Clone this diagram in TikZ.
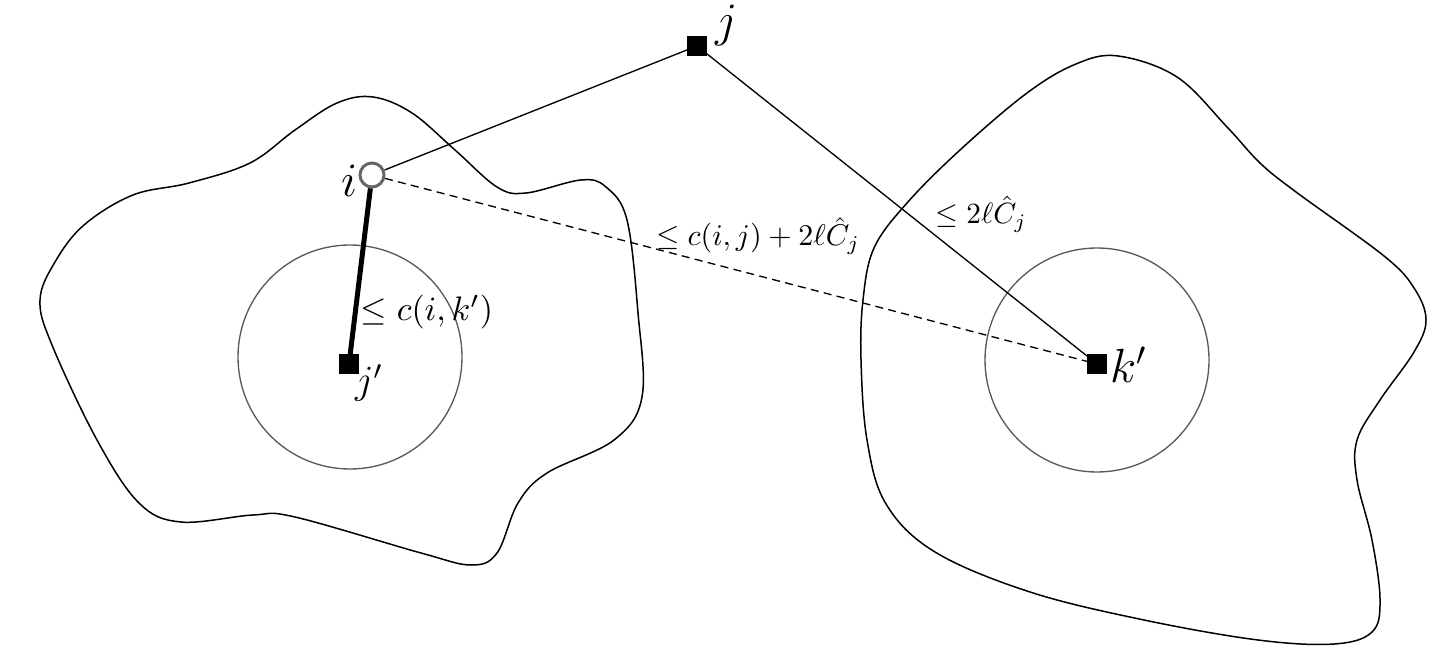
\documentclass[tikz,border=0pt]{standalone}
\usepackage{amsmath}
\begin{document}
\begin{tikzpicture}[x=0.3pt,y=-0.3pt,
  blob/.style={draw=black,line width=0.45pt},
  ball/.style={draw=black!65,line width=0.4pt},
  fac/.style={rectangle,fill=black,draw=black,minimum size=5.4pt,inner sep=0pt},
  cli/.style={circle,draw=black!60,fill=white,line width=0.9pt,minimum size=7.2pt,inner sep=0pt},
  edge/.style={draw=black,line width=0.4pt},
  dashedge/.style={draw=black,line width=0.4pt,dash pattern=on 2.4pt off 1.6pt},
  thickedge/.style={draw=black,line width=1.5pt},
  lab/.style={inner sep=0pt}
]
\useasboundingbox (0,0) rectangle (1436,667);
% left blob
\draw[blob] plot[smooth cycle,tension=0.6] coordinates {
 (40,300) (55,262) (84,225) (133,195) (189,183) (250,163) (295,130) (337,103)
 (373,97) (412,113) (455,150) (497,187) (526,193) (581,180) (606,187) (627,220)
 (638,313) (642,397) (614,440) (547,473) (518,503) (497,553) (471,565) (421,553)
 (295,517) (253,515) (181,522) (139,503) (97,440) (52,345)};
% right blob
\draw[blob] plot[smooth cycle,tension=0.6] coordinates {
 (1118,56) (1076,64) (1027,93) (960,150) (907,203) (874,248) (863,300) (861,360)
 (867,440) (886,504) (935,552) (1030,592) (1144,620) (1258,640) (1334,644)
 (1372,632) (1380,600) (1372,540) (1357,480) (1357,440) (1380,400) (1414,352)
 (1426,320) (1414,288) (1384,256) (1296,192) (1260,163) (1227,127) (1177,77)};
% balls
\draw[ball] (350,357) circle[radius=112];
\draw[ball] (1097,360) circle[radius=112];
% nodes
\node[fac] (j) at (697,46) {};
\node[fac] (jp) at (349,364) {};
\node[fac] (kp) at (1097,364) {};
\node[cli] (i) at (372,175) {};
% edges
\draw[edge] (i) -- (j);
\draw[edge] (j) -- (kp.center);
\draw[dashedge] (i) -- (kp);
\draw[thickedge] (i) -- (jp.center);
% labels
\node[lab] (li) at (350,181) {\Large$i$};
\node[lab] (lj) at (727,25) {\Large$j$};
\node[lab] (ljp) at (369,383) {\large$j'$};
\node[lab] (lkp) at (1129,365) {\Large$k'$};
\node[lab,scale=1.02] (l1) at (427,312) {$\leq c(i,k')$};
\node[lab,scale=0.9] (l2) at (758,236) {$\leq c(i,j)+2\ell\hat{C}_j$};
\node[lab,scale=0.88] (l3) at (981,214) {$\leq 2\ell\hat{C}_j$};
\end{tikzpicture}
\end{document}
